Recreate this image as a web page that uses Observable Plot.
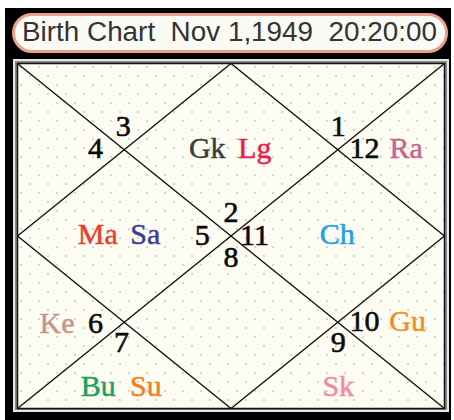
<!DOCTYPE html>
<html>
<head>
<meta charset="utf-8">
<script src="https://cdn.jsdelivr.net/npm/d3@7"></script>
<script src="https://cdn.jsdelivr.net/npm/@observablehq/plot@0.6"></script>
<style>
  html, body { margin: 0; padding: 0; background: #ffffff; }
  #wrap { position: relative; width: 454px; height: 420px; overflow: hidden; }
  #night { position: absolute; left: 5px; top: 8px; width: 446px; height: 412px; background: #000; }
  #pill { position: absolute; left: 12px; top: 13px; width: 430px; height: 34px;
          border: 3px solid #e9a18d; border-radius: 20px; background: #fbfbf6; overflow: hidden; }
  #title { position: absolute; left: 7px; top: 1px; white-space: pre; font-family: "Liberation Sans", Arial, sans-serif;
           font-size: 27px; color: #333333; transform-origin: 0 0; line-height: 31px; }
  #outer { position: absolute; left: 13px; top: 59px; width: 432px; height: 349px;
           border: 2px solid #e6e6e6; background: #8a8a8a; }
  #paper { position: absolute; left: 17px; top: 63px; width: 427px; height: 345px;
           background-color: #fcfcf2;
           background-image: radial-gradient(circle, #d6d6cc 0.9px, transparent 1.3px),
                             radial-gradient(circle, #d6d6cc 0.9px, transparent 1.3px);
           background-size: 18px 18px, 18px 18px;
           background-position: 4px 4px, 13px 13px; }
  #chart { position: absolute; left: 0; top: 0; }
</style>
</head>
<body>
<div id="wrap">
  <div id="night"></div>
  <div id="pill"><span id="title"></span></div>
  <div id="outer"></div>
  <div id="paper"></div>
  <div id="chart"></div>
</div>
<script>
// ---- data ----
const titleText = "Birth Chart  Nov 1,1949  20:20:00";
const houses = [1, 2, 3, 4, 5, 6, 7, 8, 9, 10, 11, 12];
const houseSigns = [2, 3, 4, 5, 6, 7, 8, 9, 10, 11, 12, 1];
const planetNames = ["Gk", "Lg", "Ra", "Ma", "Sa", "Ch", "Ke", "Gu", "Bu", "Su", "Sk"];
const planetHouses = [1, 1, 11, 4, 4, 10, 5, 9, 6, 6, 8];
const planetColors = ["#3c3c3c", "#e8204a", "#c8648e", "#e8402e", "#3c3c9a", "#1ea0e2", "#c4968c", "#f0901e", "#1fa060", "#f2801e", "#f28c9a"];

// ---- layout of a North Indian chart (units: square is 4 x 4, y downward) ----
const signAnchor = {
  1: [2.00, 1.84], 2: [0.99, 0.835], 3: [0.73, 1.09], 4: [1.73, 2.11],
  5: [0.73, 3.12], 6: [0.975, 3.35], 7: [2.00, 2.365], 8: [3.005, 3.35],
  9: [3.25, 3.10], 10: [2.22, 2.11], 11: [3.25, 1.09], 12: [3.005, 0.835]
};
const planetAnchor = {
  1: [2.00, 1.09], 4: [0.975, 2.09], 10: [2.995, 2.09], 11: [3.64, 1.09],
  5: [0.37, 3.12], 9: [3.655, 3.10], 6: [0.98, 3.85], 8: [3.005, 3.85],
  2: [1.0, 0.5], 3: [0.4, 2.0], 7: [2.0, 3.0], 12: [3.0, 0.5]
};
const slot = 0.445;

const signData = houses.map((h, i) => ({house: h, sign: houseSigns[i], x: signAnchor[h][0], y: signAnchor[h][1]}));
const planetData = planetNames.map((p, i) => {
  const h = planetHouses[i];
  const group = planetNames.filter((q, j) => planetHouses[j] === h);
  const k = group.indexOf(p), n = group.length;
  return {planet: p, house: h, x: planetAnchor[h][0] + (k - (n - 1) / 2) * slot, y: planetAnchor[h][1]};
});

const segments = [
  {x1: 0, y1: 0, x2: 4, y2: 4}, {x1: 4, y1: 0, x2: 0, y2: 4},
  {x1: 2, y1: 0, x2: 4, y2: 2}, {x1: 4, y1: 2, x2: 2, y2: 4},
  {x1: 2, y1: 4, x2: 0, y2: 2}, {x1: 0, y1: 2, x2: 2, y2: 0}
];

const chart = Plot.plot({
  width: 454, height: 420,
  marginLeft: 17, marginRight: 10, marginTop: 63, marginBottom: 12,
  x: {domain: [0, 4], axis: null},
  y: {domain: [4, 0], axis: null},
  color: {domain: planetNames, range: planetColors},
  style: {background: "transparent", fontFamily: "'Liberation Serif', 'Times New Roman', serif"},
  marks: [
    Plot.link(segments, {x1: "x1", y1: "y1", x2: "x2", y2: "y2", stroke: "#111", strokeWidth: 1.4}),
    Plot.frame({stroke: "#111", strokeWidth: 1.5}),
    Plot.text(signData, {x: "x", y: "y", text: "sign", fontSize: 30, textAnchor: "middle", lineAnchor: "bottom",
      fill: "#0a0a0a", stroke: "#0a0a0a", strokeWidth: 0.6}),
    Plot.text(planetData, {x: "x", y: "y", text: "planet", fontSize: 30, textAnchor: "middle", lineAnchor: "bottom",
      fill: "planet", stroke: "planet", strokeWidth: 0.5})
  ]
});
document.getElementById("chart").appendChild(chart);

const t = document.getElementById("title");
t.textContent = titleText;
const w = t.getBoundingClientRect().width;
t.style.transform = `scaleX(${415 / w})`;
</script>
</body>
</html>
